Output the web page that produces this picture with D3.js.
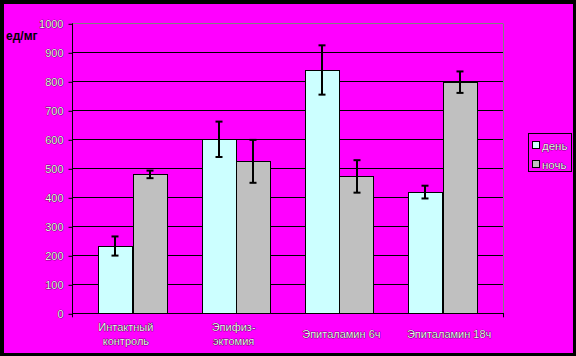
<!DOCTYPE html>
<html><head><meta charset="utf-8">
<script src="https://cdn.jsdelivr.net/npm/d3@7/dist/d3.min.js"></script>
<style>
html,body{margin:0;padding:0;background:#000;}
svg{display:block;}
text{font-family:"Liberation Sans",Arial,sans-serif;}
</style></head>
<body>
<svg id="c" width="576" height="356"></svg>
<script>
const categories = [["Интактный","контроль"],["Эпифиз-","эктомия"],["Эпиталамин 6ч"],["Эпиталамин 18ч"]];
const seriesNames = ["день","ночь"];
const dayValues = [232, 600, 839, 418];
const dayErrors = [33, 61, 85, 22];
const nightValues = [479, 524, 472, 797];
const nightErrors = [13, 74, 56, 37];
const yTicks = [0,100,200,300,400,500,600,700,800,900,1000];
const yLabel = "ед/мг";

(function(){
const colors = ["#ccffff", "#c0c0c0"];
const svg = d3.select("#c");
svg.append("rect").attr("x",0).attr("y",0).attr("width",576).attr("height",356).attr("fill","#000");
svg.append("rect").attr("x",4).attr("y",4).attr("width",569).attr("height",349).attr("fill","#ff00ff");

const pL = 72, pR = 503, pT = 23.3, pB = 313.3;
const y = d3.scaleLinear().domain([0,1000]).range([pB, pT]);
const keys = categories.map((c,i)=>"c"+i);
const xLab = d3.scaleBand().domain(keys).range([pL, pR]);
const xBar = d3.scaleBand().domain(keys).range([81, 494.3]).paddingInner(1/3).paddingOuter(1/6);
const xSub = d3.scaleBand().domain(seriesNames).range([0, xBar.bandwidth()]);

const grid = svg.append("g");
grid.selectAll("line").data(yTicks.filter(t=>t>0)).join("line")
  .attr("x1", pL).attr("x2", pR)
  .attr("y1", d=>Math.round(y(d))+0.5).attr("y2", d=>Math.round(y(d))+0.5)
  .attr("stroke", d=> d===1000 ? "#808080" : "#000").attr("stroke-width",1);
svg.append("line").attr("x1", pR+0.5).attr("x2", pR+0.5).attr("y1", Math.round(y(1000))+0.5).attr("y2", Math.round(y(0))+0.5)
  .attr("stroke","#808080");

const series = [
  {name: seriesNames[0], vals: dayValues, errs: dayErrors, color: colors[0]},
  {name: seriesNames[1], vals: nightValues, errs: nightErrors, color: colors[1]}
];
series.forEach(s=>{
  const g = svg.append("g");
  g.selectAll("rect").data(s.vals).join("rect")
    .attr("x", (d,i)=> Math.round(xBar(keys[i]) + xSub(s.name)) + 0.5)
    .attr("y", d=> Math.round(y(d)) + 0.5)
    .attr("width", Math.round(xSub.bandwidth()))
    .attr("height", d=> Math.round(y(0)) - Math.round(y(d)))
    .attr("fill", s.color).attr("stroke","#000").attr("stroke-width",1);
});
series.forEach(s=>{
  const g = svg.append("g").attr("stroke","#000").attr("stroke-width",2);
  s.vals.forEach((v,i)=>{
    const cx = Math.round(xBar(keys[i]) + xSub(s.name) + xSub.bandwidth()/2);
    const y1 = y(v + s.errs[i]), y2 = y(v - s.errs[i]);
    g.append("line").attr("x1",cx).attr("x2",cx).attr("y1",y1).attr("y2",y2);
    g.append("line").attr("x1",cx-3.5).attr("x2",cx+3.5).attr("y1",y1).attr("y2",y1);
    g.append("line").attr("x1",cx-3.5).attr("x2",cx+3.5).attr("y1",y2).attr("y2",y2);
  });
});

const yAxis = d3.axisLeft(y).tickValues(yTicks).tickSize(4).tickPadding(5).tickFormat(d3.format("d"));
const ya = svg.append("g").attr("transform",`translate(${pL+0.5},0.5)`).call(yAxis);
ya.select(".domain").remove();
ya.selectAll(".tick line").attr("stroke","#000");
ya.selectAll("text").attr("font-size",11).attr("font-family","Liberation Sans, Arial, sans-serif").attr("fill","#f0f0f0").attr("stroke","#000").attr("stroke-width",0.6).attr("paint-order","stroke");
svg.append("line").attr("x1",pL+0.5).attr("x2",pL+0.5).attr("y1",pT).attr("y2",pB+4).attr("stroke","#000");
svg.append("line").attr("x1",pL).attr("x2",pR+1).attr("y1",Math.round(pB)+0.5).attr("y2",Math.round(pB)+0.5).attr("stroke","#000");
svg.append("line").attr("x1",pR+0.5).attr("x2",pR+0.5).attr("y1",pB).attr("y2",pB+4).attr("stroke","#000");

const cl = svg.append("g");
categories.forEach((lines,i)=>{
  const cx = xLab(keys[i]) + xLab.bandwidth()/2;
  const t = cl.append("text").attr("text-anchor","middle").attr("font-size",11)
    .attr("fill","#f0f0f0").attr("stroke","#000").attr("stroke-width",0.6).attr("paint-order","stroke");
  const base = lines.length === 2 ? 331 : 338;
  lines.forEach((ln,j)=>{
    t.append("tspan").attr("x",cx).attr("y", base + j*14).text(ln);
  });
});

svg.append("text").attr("x",6).attr("y",40).attr("font-size",12).attr("font-weight","bold").attr("fill","#000").text(yLabel);

const lg = svg.append("g");
lg.append("rect").attr("x",528.5).attr("y",133.5).attr("width",43).attr("height",38).attr("fill","none").attr("stroke","#000");
series.forEach((s,i)=>{
  const yy = 141 + i*19;
  lg.append("rect").attr("x",532.5).attr("y",yy+0.5).attr("width",7).attr("height",7).attr("fill",s.color).attr("stroke","#000");
  lg.append("text").attr("x",542).attr("y",yy+9).attr("font-size",11.5)
    .attr("fill","#f0f0f0").attr("stroke","#000").attr("stroke-width",0.6).attr("paint-order","stroke").text(s.name);
});
})();
</script>
</body></html>
